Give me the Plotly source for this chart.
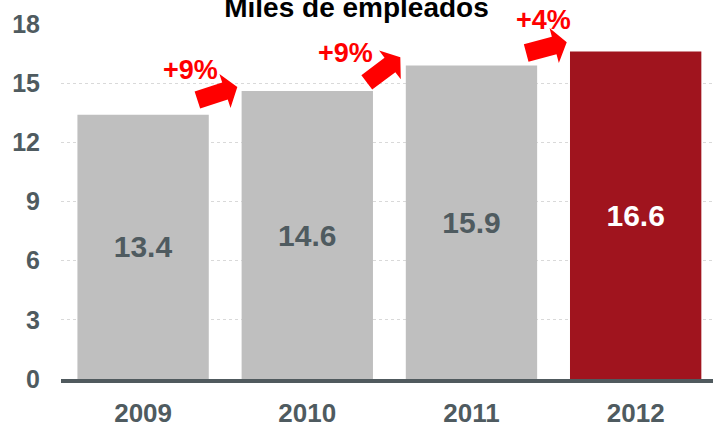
import math
import plotly.graph_objects as go

# ---- data ----
years = ["2009", "2010", "2011", "2012"]
employees = [13.4, 14.6, 15.9, 16.6]          # miles de empleados
y_ticks = [0, 3, 6, 9, 12, 15, 18]
title_text = "Miles de empleados"

# ---- styles ----
FONT = "Arial, Liberation Sans, sans-serif"
GRAY_TXT = "#4f5b60"
bar_colors = ["#bfbfbf", "#bfbfbf", "#bfbfbf", "#a0141e"]
label_colors = [GRAY_TXT, GRAY_TXT, GRAY_TXT, "#ffffff"]
RED = "#ff0000"

xpos = list(range(len(years)))

fig = go.Figure()
fig.add_trace(go.Bar(
    x=xpos, y=employees,
    marker=dict(color=bar_colors, line=dict(width=0)),
    width=0.8,
    texttemplate="%{y:.1f}",
    textposition="inside",
    insidetextanchor="middle",
    textangle=0,
    constraintext="none",
    textfont=dict(family=FONT, size=30, color=label_colors, weight="bold"),
    hoverinfo="skip",
))

# growth arrows between consecutive bars (pixel geometry anchored to bar boundary)
arrow_angles = [18, 37, 15]             # degrees, upward
arrow_tail = [(-27.8, -8.9), (-22.6, -17.0), (-27.4, -1.4)]   # px offsets (up positive)
label_shift = [(-35, 21), (-44, 12.5), (-10, 31.6)]
body_len, body_half, head_half, total_len = 29, 9, 18, 42
local = [(0, -body_half), (body_len, -body_half), (body_len, -head_half),
         (total_len, 0), (body_len, head_half), (body_len, body_half), (0, body_half)]

shapes = []
annotations = []
for i in range(len(years) - 1):
    growth = round((employees[i + 1] / employees[i] - 1) * 100)
    a = math.radians(arrow_angles[i])
    ux, uy = math.cos(a), math.sin(a)
    nx, ny = -math.sin(a), math.cos(a)
    tx, ty = arrow_tail[i]
    pts = [(tx + s * ux + t * nx, ty + s * uy + t * ny) for s, t in local]
    path = "M" + " L".join(f"{px:.2f},{py:.2f}" for px, py in pts) + " Z"
    shapes.append(dict(
        type="path", path=path,
        xref="x", yref="y", xsizemode="pixel", ysizemode="pixel",
        xanchor=i + 0.5, yanchor=employees[i + 1],
        fillcolor=RED, line=dict(width=0), layer="above",
    ))
    annotations.append(dict(
        x=i + 0.5, y=employees[i + 1], xref="x", yref="y",
        text=f"+{growth}%", showarrow=False,
        xshift=label_shift[i][0], yshift=label_shift[i][1],
        font=dict(family=FONT, size=27, color=RED, weight="bold"),
        xanchor="center", yanchor="middle",
    ))

fig.update_layout(
    width=713, height=424,
    margin=dict(l=61, r=0, t=24, b=45, autoexpand=False),
    paper_bgcolor="white", plot_bgcolor="white",
    showlegend=False,
    bargap=0.2,
    title=dict(text=title_text, x=0.5, xref="container", xanchor="center",
               y=1 - 7.5 / 424, yref="container", yanchor="middle",
               font=dict(family=FONT, size=28, color="#000000", weight="bold")),
    shapes=shapes,
    annotations=annotations,
    xaxis=dict(
        range=[-0.5, 3.471], automargin=False,
        tickmode="array", tickvals=xpos, ticktext=years,
        showgrid=False, zeroline=False,
        showline=True, linecolor="#505a5e", linewidth=4,
        ticks="", ticklabelstandoff=8,
        tickfont=dict(family=FONT, size=26, color=GRAY_TXT, weight="bold"),
    ),
    yaxis=dict(
        range=[0, 18], automargin=False,
        tickmode="array", tickvals=y_ticks,
        showgrid=True, gridcolor="#d9d9d9", gridwidth=1, griddash="dot",
        zeroline=False, showline=False,
        ticks="", ticklabelstandoff=20,
        tickfont=dict(family=FONT, size=25, color=GRAY_TXT, weight="bold"),
    ),
)

fig.write_html("out.html", config={"displayModeBar": False},
               post_script="document.body.style.margin='0';")
